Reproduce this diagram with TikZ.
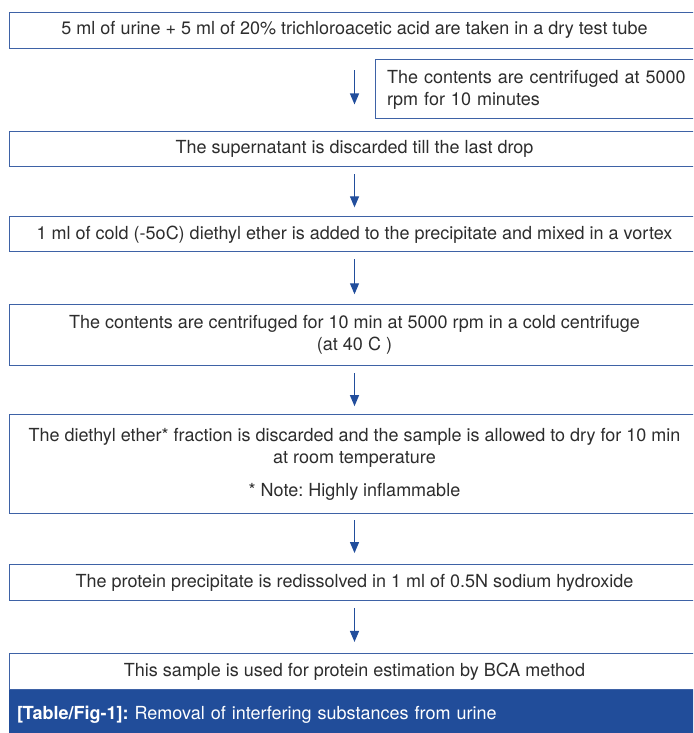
\documentclass[tikz,border=0pt]{standalone}
\usepackage{fontspec}
\setmainfont{TeX Gyre Heros}
\usetikzlibrary{arrows.meta,positioning}
\definecolor{framecolor}{RGB}{62,98,166}
\definecolor{arrowcolor}{RGB}{34,78,156}
\definecolor{bandcolor}{RGB}{33,77,154}
\definecolor{textgray}{RGB}{45,45,45}
\frenchspacing
\tikzset{
  stepbox/.style={draw=framecolor,fill=white,line width=0.9pt,
    minimum width=691pt,minimum height=36pt,inner ysep=2pt,align=center,
    text=textgray,font=\fontsize{18}{22}\selectfont},
  sidebox/.style={draw=framecolor,fill=white,line width=0.9pt,
    text width=301pt,inner xsep=12pt,minimum height=59pt,align=left,
    text=textgray,font=\fontsize{18}{22}\selectfont},
  captionband/.style={fill=bandcolor,minimum width=691pt,minimum height=49pt,
    text width=675pt,inner xsep=8pt,align=left,text=white,
    font=\fontsize{18}{22}\selectfont},
  steparrow/.style={-{Triangle[length=11pt,width=9pt]},line width=1.2pt,
    draw=arrowcolor,shorten <=7pt,shorten >=9pt},
}
\begin{document}
\begin{tikzpicture}
  \useasboundingbox (0,0) rectangle (693pt,-733pt);
  \clip (0,0) rectangle (693pt,-733pt);
  \node[stepbox] (tca) at (354.5pt,-30pt)
    {5 ml of urine + 5 ml of 20\% trichloroacetic acid are taken in a dry test tube};
  \node[sidebox,below=11pt of tca.south east,anchor=north east] (spin1)
    {The contents are centrifuged at 5000\\rpm for 10 minutes};
  \node[stepbox,below=83pt of tca,minimum height=35pt] (discard)
    {The supernatant is discarded till the last drop};
  \node[stepbox,below=49pt of discard,minimum height=35pt] (ether)
    {1 ml of cold (-5oC) diethyl ether is added to the precipitate and mixed in a vortex};
  \node[stepbox,below=52pt of ether,minimum height=61pt] (spin2)
    {The contents are centrifuged for 10 min at 5000 rpm in a cold centrifuge\\(at 40 C )};
  \node[stepbox,below=48pt of spin2,minimum height=99pt] (dry)
    {The diethyl ether* fraction is discarded and the sample is allowed to dry for 10 min\\
     at room temperature\\[11pt]* Note: Highly inflammable};
  \node[stepbox,below=50pt of dry] (naoh)
    {The protein precipitate is redissolved in 1 ml of 0.5N sodium hydroxide};
  \node[stepbox,below=52pt of naoh] (bca)
    {This sample is used for protein estimation by BCA method};
  \node[captionband,below=0pt of bca] (caption)
    {\textbf{[Table/Fig-1]:} Removal of interfering substances from urine};
  % arrows between the steps
  \draw[steparrow,shorten <=22pt,shorten >=27pt] (tca) -- (discard);
  \draw[steparrow] (discard) -- (ether);
  \draw[steparrow,shorten >=10pt] (ether) -- (spin2);
  \draw[steparrow,shorten >=8pt] (spin2) -- (dry);
  \draw[steparrow,shorten <=6pt,shorten >=11pt] (dry) -- (naoh);
  \draw[steparrow,shorten >=11pt] (naoh) -- (bca);
\end{tikzpicture}
\end{document}
